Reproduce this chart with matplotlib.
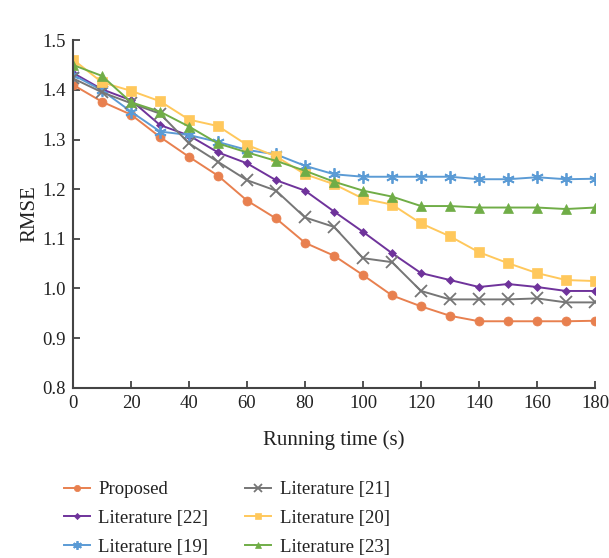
import numpy as np
import matplotlib
matplotlib.use("Agg")
import matplotlib.pyplot as plt

plt.rcParams["font.family"] = ["Liberation Serif", "DejaVu Serif"]

# ---- data ---------------------------------------------------------------
time_s = [0, 10, 20, 30, 40, 50, 60, 70, 80, 90, 100, 110, 120, 130, 140, 150, 160, 170, 180]

proposed = [1.410, 1.376, 1.350, 1.305, 1.265, 1.227, 1.177, 1.141, 1.092, 1.066, 1.027,
            0.986, 0.964, 0.945, 0.934, 0.934, 0.934, 0.934, 0.935]
lit22 = [1.434, 1.401, 1.379, 1.329, 1.308, 1.274, 1.252, 1.218, 1.197, 1.155, 1.114,
         1.071, 1.031, 1.017, 1.003, 1.009, 1.003, 0.995, 0.995]
lit19 = [1.430, 1.399, 1.356, 1.316, 1.309, 1.295, 1.279, 1.270, 1.247, 1.230, 1.225,
         1.225, 1.225, 1.225, 1.220, 1.220, 1.224, 1.220, 1.221]
lit21 = [1.423, 1.395, 1.373, 1.352, 1.292, 1.255, 1.218, 1.197, 1.143, 1.124, 1.061,
         1.053, 0.995, 0.978, 0.978, 0.978, 0.980, 0.972, 0.972]
lit20 = [1.461, 1.415, 1.398, 1.377, 1.340, 1.327, 1.289, 1.266, 1.230, 1.210, 1.181,
         1.169, 1.131, 1.105, 1.073, 1.051, 1.031, 1.017, 1.015]
lit23 = [1.450, 1.428, 1.375, 1.356, 1.326, 1.292, 1.274, 1.257, 1.237, 1.215, 1.197,
         1.185, 1.166, 1.166, 1.163, 1.163, 1.163, 1.160, 1.163]

# ---- styling ------------------------------------------------------------
ORANGE, PURPLE, BLUE = "#E8804F", "#6F339B", "#5B9BD5"
GRAY, YELLOW, GREEN = "#767676", "#FFC85C", "#70AD47"
ASTERISK = (6, 2, 0)

series = [
    ("Proposed", proposed, ORANGE, "o", 6.5),
    ("Literature [22]", lit22, PURPLE, "D", 4.5),
    ("Literature [19]", lit19, BLUE, ASTERISK, 9),
    ("Literature [21]", lit21, GRAY, "x", 8),
    ("Literature [20]", lit20, YELLOW, "s", 6.5),
    ("Literature [23]", lit23, GREEN, "^", 6.5),
]

fig = plt.figure(figsize=(6.09, 5.58), dpi=100)
ax = fig.add_axes([0.120, 0.305, 0.857, 0.623])

for name, vals, color, marker, ms in series:
    ax.plot(time_s, vals, color=color, linewidth=1.4, marker=marker, markersize=ms,
            markeredgewidth=1.3 if marker in ("x", ASTERISK) else 0.5,
            markeredgecolor=color, label=name)

ax.set_xlim(0, 180)
ax.set_ylim(0.8, 1.5)
ax.set_xticks(np.arange(0, 181, 20))
yt = np.arange(0.8, 1.501, 0.1)
ax.set_yticks(yt)
ax.set_yticklabels([f"{v:.1f}" for v in yt])
ax.tick_params(axis="both", direction="in", length=5, width=1.2, colors="#333333",
               labelsize=13.5, labelcolor="#222222", pad=5)
for side in ("top", "right"):
    ax.spines[side].set_visible(False)
for side in ("left", "bottom"):
    ax.spines[side].set_color("#444444")
    ax.spines[side].set_linewidth(1.5)

ax.set_xlabel("Running time (s)", fontsize=15, color="#222222", labelpad=13)
ax.set_ylabel("RMSE", fontsize=15, color="#222222", labelpad=2)

handles, labels = ax.get_legend_handles_labels()
leg = fig.legend(handles, labels, loc="upper left", bbox_to_anchor=(0.077, 0.168),
                 ncol=2, frameon=False, fontsize=13.5, handlelength=1.4,
                 handletextpad=0.45, columnspacing=1.95, labelspacing=0.62,
                 markerscale=0.7)
for t in leg.get_texts():
    t.set_color("#222222")

fig.savefig("out.png", dpi=100)
